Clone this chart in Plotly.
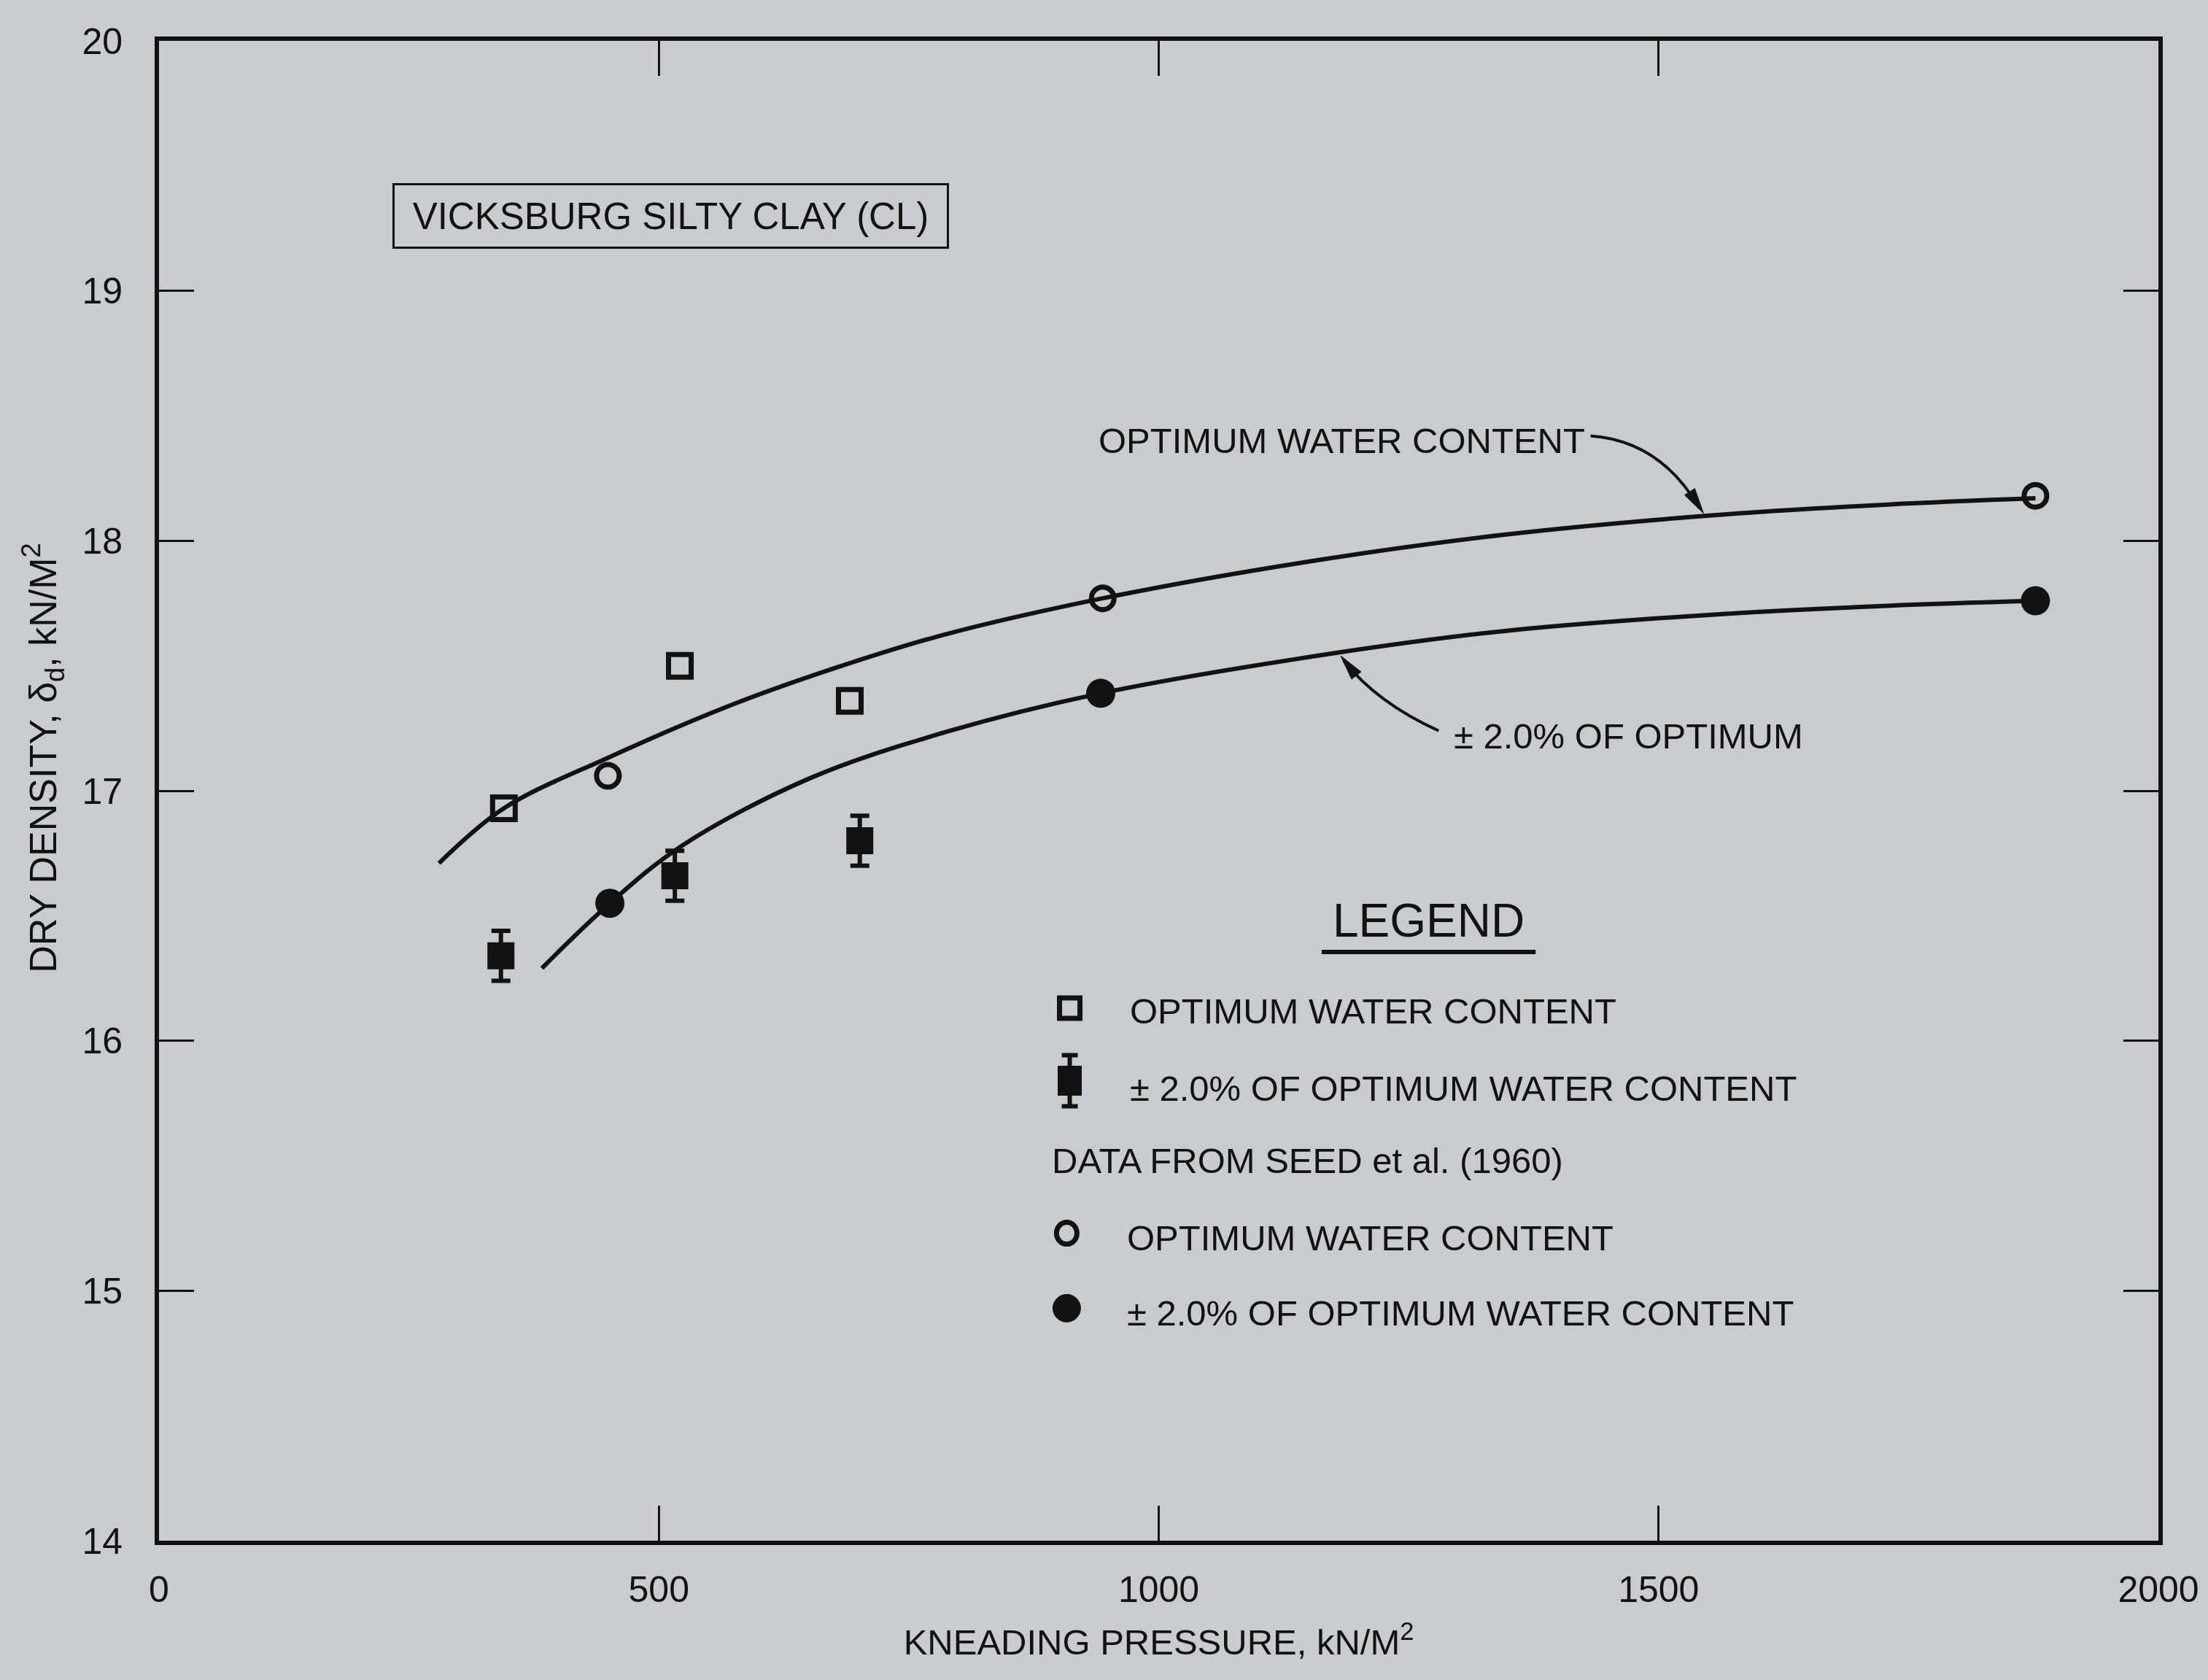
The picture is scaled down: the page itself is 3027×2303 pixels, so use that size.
import plotly.graph_objects as go

# ---------------- data ----------------
# This study: Vicksburg silty clay, kneading compaction
sq_open_x = [345, 521, 691]          # optimum water content
sq_open_y = [16.93, 17.50, 17.36]
sq_fill_x = [342, 516, 701]          # +/-2.0% of optimum
sq_fill_y = [16.34, 16.66, 16.80]
sq_fill_err = [0.10, 0.10, 0.10]

# Data from Seed et al. (1960)
seed_opt_x = [449, 944, 1877]
seed_opt_y = [17.06, 17.77, 18.18]
seed_wet_x = [451, 942, 1877]
seed_wet_y = [16.55, 17.39, 17.76]

# Hand-drawn trend curves
curve_opt_x = [280, 345, 448, 577, 687, 786, 944, 1139, 1347, 1548, 1729, 1877]
curve_opt_y = [16.71, 16.93, 17.13, 17.35, 17.505, 17.625, 17.77, 17.91, 18.025, 18.10, 18.145, 18.17]
curve_wet_x = [383, 451, 523, 651, 787, 942, 1175, 1348, 1556, 1729, 1876]
curve_wet_y = [16.29, 16.55, 16.78, 17.05, 17.235, 17.39, 17.55, 17.64, 17.705, 17.74, 17.76]

x_ticks = [0, 500, 1000, 1500, 2000]
y_ticks = [14, 15, 16, 17, 18, 19, 20]

# ---------------- style ----------------
INK = "#121212"
BG = "#c9ccce"
FONT = "Liberation Sans, Arial, sans-serif"
TXT = 49

fig = go.Figure()

fig.add_trace(go.Scatter(x=curve_opt_x, y=curve_opt_y, mode="lines",
                         line=dict(color=INK, width=6, shape="spline", smoothing=1.0),
                         showlegend=False, hoverinfo="skip"))
fig.add_trace(go.Scatter(x=curve_wet_x, y=curve_wet_y, mode="lines",
                         line=dict(color=INK, width=6, shape="spline", smoothing=1.0),
                         showlegend=False, hoverinfo="skip"))

fig.add_trace(go.Scatter(x=sq_open_x, y=sq_open_y, mode="markers",
                         marker=dict(symbol="square-open", size=31, color=INK,
                                     line=dict(width=7, color=INK)),
                         showlegend=False))
fig.add_trace(go.Scatter(x=sq_fill_x, y=sq_fill_y, mode="markers",
                         marker=dict(symbol="square", size=37, color=INK),
                         error_y=dict(type="data", array=sq_fill_err, visible=True,
                                      color=INK, thickness=6, width=13),
                         showlegend=False))
fig.add_trace(go.Scatter(x=seed_opt_x, y=seed_opt_y, mode="markers",
                         marker=dict(symbol="circle-open", size=31, color=INK,
                                     line=dict(width=7, color=INK)),
                         showlegend=False))
fig.add_trace(go.Scatter(x=seed_wet_x, y=seed_wet_y, mode="markers",
                         marker=dict(symbol="circle", size=40, color=INK),
                         showlegend=False))

annotations = []
shapes = []

# y-axis title (placed as rotated text to match the reference position)
annotations.append(dict(x=-0.058, y=0.522, xref="paper", yref="paper", showarrow=False,
                        text="DRY DENSITY, δ<sub>d</sub>, kN/M<sup>2</sup>", textangle=-90,
                        xanchor="center", yanchor="middle",
                        font=dict(family=FONT, size=52, color=INK)))

# title box
annotations.append(dict(x=512, y=19.30, xref="x", yref="y", showarrow=False,
                        text="VICKSBURG SILTY CLAY (CL)",
                        font=dict(family=FONT, size=51, color=INK),
                        bordercolor=INK, borderwidth=3, borderpad=6,
                        width=745, height=72, xanchor="center", yanchor="middle"))

# curve labels
annotations.append(dict(x=938, y=18.40, xref="x", yref="y", showarrow=False,
                        text="OPTIMUM WATER CONTENT", xanchor="left", yanchor="middle",
                        font=dict(family=FONT, size=TXT, color=INK)))
annotations.append(dict(x=1294, y=17.22, xref="x", yref="y", showarrow=False,
                        text="± 2.0% OF OPTIMUM", xanchor="left", yanchor="middle",
                        font=dict(family=FONT, size=TXT, color=INK)))

# curved leaders with arrowheads
shapes.append(dict(type="path", xref="x", yref="y",
                   path="M 1432,18.42 Q 1502,18.40 1541,18.13",
                   line=dict(color=INK, width=4)))
shapes.append(dict(type="path", xref="x", yref="y",
                   path="M 1280,17.24 Q 1219,17.35 1185,17.52",
                   line=dict(color=INK, width=4)))


def pix(kind, xa, ya, **kw):
    d = dict(type=kind, xref="x", yref="y", xsizemode="pixel", ysizemode="pixel",
             xanchor=xa, yanchor=ya)
    d.update(kw)
    return d


shapes.append(pix("path", 1545, 18.11, path="M 0,0 L -12,34 L -26,25 Z",
                  fillcolor=INK, line=dict(color=INK, width=1)))
shapes.append(pix("path", 1182, 17.54, path="M 0,0 L 28,-22 L 15,-32 Z",
                  fillcolor=INK, line=dict(color=INK, width=1)))

# ---------------- hand-made legend ----------------
annotations.append(dict(x=1270, y=16.48, xref="x", yref="y", showarrow=False,
                        text="LEGEND", xanchor="center", yanchor="middle",
                        font=dict(family=FONT, size=64, color=INK)))
shapes.append(dict(type="line", xref="x", yref="y", x0=1163, x1=1377, y0=16.355, y1=16.355,
                   line=dict(color=INK, width=6)))

legend_rows = [
    (970, 16.12, "OPTIMUM WATER CONTENT"),
    (970, 15.81, "± 2.0% OF OPTIMUM WATER CONTENT"),
    (892, 15.52, "DATA FROM SEED et al. (1960)"),
    (967, 15.21, "OPTIMUM WATER CONTENT"),
    (967, 14.91, "± 2.0% OF OPTIMUM WATER CONTENT"),
]
for lx, ly, lt in legend_rows:
    annotations.append(dict(x=lx, y=ly, xref="x", yref="y", showarrow=False, text=lt,
                            xanchor="left", yanchor="middle",
                            font=dict(family=FONT, size=TXT, color=INK)))

# open square key
shapes.append(pix("rect", 911, 16.13, x0=-14, x1=14, y0=-14, y1=14,
                  line=dict(color=INK, width=7)))
# filled square with error bar key
shapes.append(pix("line", 911, 15.84, x0=0, x1=0, y0=-35, y1=35, line=dict(color=INK, width=6)))
shapes.append(pix("line", 911, 15.84, x0=-11, x1=11, y0=35, y1=35, line=dict(color=INK, width=6)))
shapes.append(pix("line", 911, 15.84, x0=-11, x1=11, y0=-35, y1=-35, line=dict(color=INK, width=6)))
shapes.append(pix("rect", 911, 15.84, x0=-16, x1=16, y0=-20, y1=20,
                  fillcolor=INK, line=dict(color=INK, width=1)))
# open circle key
shapes.append(pix("circle", 908, 15.23, x0=-14, x1=14, y0=-15, y1=15,
                  line=dict(color=INK, width=7)))
# filled circle key
shapes.append(pix("circle", 908, 14.93, x0=-19, x1=19, y0=-19, y1=19,
                  fillcolor=INK, line=dict(color=INK, width=1)))

axis_common = dict(showline=True, linewidth=6, linecolor=INK, mirror="ticks",
                   ticks="inside", ticklen=48, tickwidth=3, tickcolor=INK,
                   showgrid=False, zeroline=False,
                   tickfont=dict(family=FONT, size=50, color=INK))

fig.update_layout(
    width=3027, height=2303,
    margin=dict(l=218, r=68, t=56, b=191, autoexpand=False),
    paper_bgcolor=BG, plot_bgcolor=BG,
    showlegend=False,
    xaxis=dict(range=[0, 2000], tickvals=x_ticks, ticktext=[str(v) for v in x_ticks],
               ticklabelstandoff=18,
               title=dict(text="KNEADING PRESSURE, kN/M<sup>2</sup>", standoff=30,
                          font=dict(family=FONT, size=49, color=INK)),
               **axis_common),
    yaxis=dict(range=[14, 20], tickvals=y_ticks, ticktext=[str(v) for v in y_ticks],
               ticklabelstandoff=34,
               **axis_common),
    annotations=annotations,
    shapes=shapes,
)

fig.write_html("out.html")
